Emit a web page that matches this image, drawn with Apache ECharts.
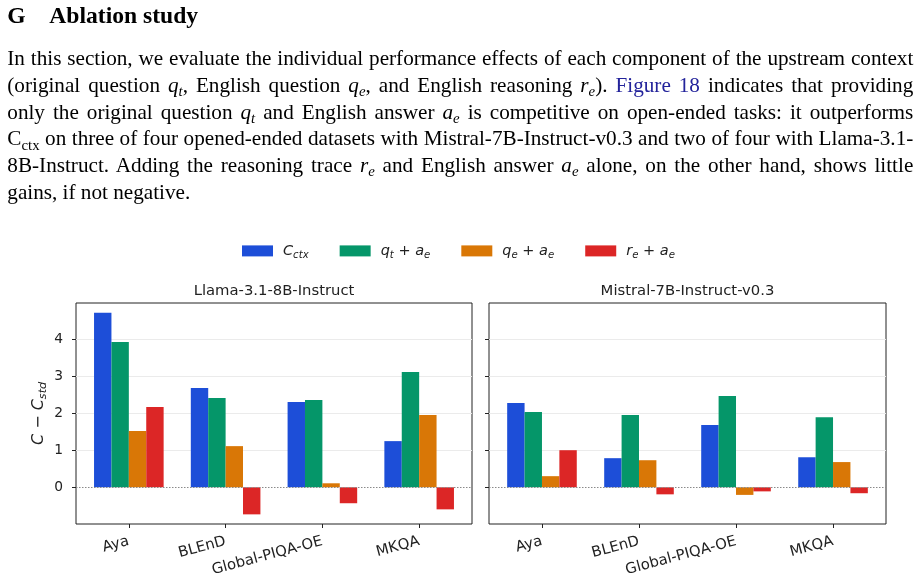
<!DOCTYPE html>
<html>
<head>
<meta charset="utf-8">
<script src="https://cdn.jsdelivr.net/npm/echarts@6/dist/echarts.min.js"></script>
<style>
html,body{margin:0;padding:0;background:#fff;}
#wrap{position:relative;width:923px;height:580px;overflow:hidden;background:#fff;}
#chart{position:absolute;left:0;top:0;width:923px;height:580px;}
.t{position:absolute;font-family:"Liberation Serif","DejaVu Serif",serif;color:#000;white-space:nowrap;}
.h{font-weight:bold;font-size:23.6px;line-height:23.6px;top:4.2px;}
.ln{left:7.3px;width:906px;font-size:21.2px;line-height:21.2px;text-align:justify;text-align-last:justify;}
.ln.last{text-align:left;text-align-last:left;}
.ln i{font-style:italic;}
.sb{font-size:0.7em;position:relative;top:0.3em;line-height:0;}
.lk{color:#23239b;}
</style>
</head>
<body>
<div id="wrap">
<div id="chart"></div>
<div class="t h" style="left:7.3px;">G</div>
<div class="t h" style="left:49.3px;">Ablation study</div>
<div class="t ln" style="top:48.3px;">In this section, we evaluate the individual performance effects of each component of the upstream context</div>
<div class="t ln" style="top:74.95px;">(original question <i>q</i><span class="sb"><i>t</i></span>, English question <i>q</i><span class="sb"><i>e</i></span>, and English reasoning <i>r</i><span class="sb"><i>e</i></span>). <span class="lk">Figure 18</span> indicates that providing</div>
<div class="t ln" style="top:101.6px;">only the original question <i>q</i><span class="sb"><i>t</i></span> and English answer <i>a</i><span class="sb"><i>e</i></span> is competitive on open-ended tasks: it outperforms</div>
<div class="t ln" style="top:128.25px;">C<span class="sb">ctx</span> on three of four opened-ended datasets with Mistral-7B-Instruct-v0.3 and two of four with Llama-3.1-</div>
<div class="t ln" style="top:154.9px;">8B-Instruct. Adding the reasoning trace <i>r</i><span class="sb"><i>e</i></span> and English answer <i>a</i><span class="sb"><i>e</i></span> alone, on the other hand, shows little</div>
<div class="t ln last" style="top:181.55px;">gains, if not negative.</div>
</div>
<script>
const categories = ['Aya', 'BLEnD', 'Global-PIQA-OE', 'MKQA'];
const seriesNames = ['C_ctx', 'q_t + a_e', 'q_e + a_e', 'r_e + a_e'];
const panelTitles = ['Llama-3.1-8B-Instruct', 'Mistral-7B-Instruct-v0.3'];

const llamaCctx = [4.71, 2.68, 2.30, 1.245];
const llamaQtAe = [3.92, 2.41, 2.355, 3.11];
const llamaQeAe = [1.52, 1.11, 0.108, 1.95];
const llamaReAe = [2.165, -0.73, -0.43, -0.595];

const mistralCctx = [2.27, 0.785, 1.68, 0.81];
const mistralQtAe = [2.03, 1.95, 2.46, 1.89];
const mistralQeAe = [0.30, 0.73, -0.205, 0.68];
const mistralReAe = [1.00, -0.19, -0.11, -0.16];

const yTicks = [0, 1, 2, 3, 4];
const xTicks = [0, 1, 2, 3];

const colors = ['#1d4ed8', '#059669', '#d97706', '#dc2626'];
const ink = '#222';
const FF = 'DejaVu Sans';

const panels = [
  [llamaCctx, llamaQtAe, llamaQeAe, llamaReAe],
  [mistralCctx, mistralQtAe, mistralQeAe, mistralReAe]
];

const gridBoxes = [
  {left: 76, top: 303, width: 396, height: 221},
  {left: 489, top: 303, width: 397, height: 221}
];

const legendText = {
  'C_ctx': '{f|C}{s|ctx}',
  'q_t + a_e': '{f|q}{s|t}{o| + }{m|a}{s|e}',
  'q_e + a_e': '{f|q}{s|e}{o| + }{m|a}{s|e}',
  'r_e + a_e': '{f|r}{s|e}{o| + }{m|a}{s|e}'
};

function makeRich(size, lh, pad) {
  return {
    f: {fontFamily: FF, fontStyle: 'italic', fontSize: size, lineHeight: lh, verticalAlign: 'middle', color: ink, padding: [0, 0, 0, pad]},
    m: {fontFamily: FF, fontStyle: 'italic', fontSize: size, lineHeight: lh, verticalAlign: 'middle', color: ink},
    o: {fontFamily: FF, fontSize: size, lineHeight: lh, verticalAlign: 'middle', color: ink},
    s: {fontFamily: FF, fontStyle: 'italic', fontSize: size * 0.7, lineHeight: size * 0.7, verticalAlign: 'bottom', color: ink}
  };
}

const chart = echarts.init(document.getElementById('chart'), null, {renderer: 'canvas'});

const grids = gridBoxes.map(b => Object.assign({show: true, borderColor: ink, borderWidth: 1, backgroundColor: 'transparent'}, b));

const xAxes = gridBoxes.map((b, i) => ({
  gridIndex: i, type: 'value', position: 'bottom', min: -0.546, max: 3.546,
  splitLine: {show: false}, axisLine: {show: false, onZero: false},
  axisTick: {show: true, customValues: xTicks, length: 4, lineStyle: {color: ink, width: 1}},
  axisLabel: {show: true, customValues: xTicks, formatter: v => categories[Math.round(v)],
    rotate: 15, margin: 17, fontSize: 14.8, fontFamily: FF, color: ink}
}));

const yAxes = gridBoxes.map((b, i) => ({
  gridIndex: i, type: 'value', position: 'left', min: -0.99, max: 4.97,
  splitLine: {show: false}, axisLine: {show: false, onZero: false},
  axisTick: {show: true, customValues: yTicks, length: 4, lineStyle: {color: ink, width: 1}},
  axisLabel: {show: i === 0, customValues: yTicks, margin: 13, fontSize: 13.8, fontFamily: FF, color: ink},
  name: i === 0 ? '{m|C}{o| − }{m|C}{s|std}' : '',
  nameLocation: 'middle', nameGap: 27,
  nameTextStyle: {rich: makeRich(16, 20, 0)}
}));

const series = [];
panels.forEach((vals, gi) => {
  vals.forEach((arr, si) => {
    const s = {
      name: seriesNames[si], type: 'bar', xAxisIndex: gi, yAxisIndex: gi,
      barWidth: 17.4, barGap: '0%',
      data: arr.map((v, j) => [xTicks[j], v]),
      itemStyle: {color: colors[si]},
      emphasis: {disabled: true}
    };
    if (si === 0) {
      s.markLine = {silent: true, symbol: 'none', z: 1, label: {show: false},
        lineStyle: {color: '#ebebeb', width: 1, type: 'solid'},
        data: yTicks.filter(v => v !== 0).map(v => ({yAxis: v}))};
    }
    if (si === 1) {
      s.markLine = {silent: true, symbol: 'none', z: 5, label: {show: false},
        lineStyle: {color: '#8a8a8a', width: 1, type: [1.5, 1.5]},
        data: [{yAxis: 0}]};
    }
    series.push(s);
  });
});

chart.setOption({
  animation: false,
  backgroundColor: '#fff',
  title: panelTitles.map((t, i) => ({
    text: t, left: gridBoxes[i].left + gridBoxes[i].width / 2, top: 283.5, textAlign: 'center', padding: 0,
    textStyle: {fontFamily: FF, fontSize: 14.8, fontWeight: 'normal', color: ink}
  })),
  legend: {
    left: 242, top: 243.4, padding: 0, itemWidth: 31, itemHeight: 11, itemGap: 31, icon: 'rect',
    selectedMode: false, data: seriesNames,
    formatter: n => legendText[n],
    textStyle: {rich: makeRich(14.5, 18, 5)}
  },
  grid: grids,
  xAxis: xAxes,
  yAxis: yAxes,
  series: series
});
</script>
</body>
</html>
